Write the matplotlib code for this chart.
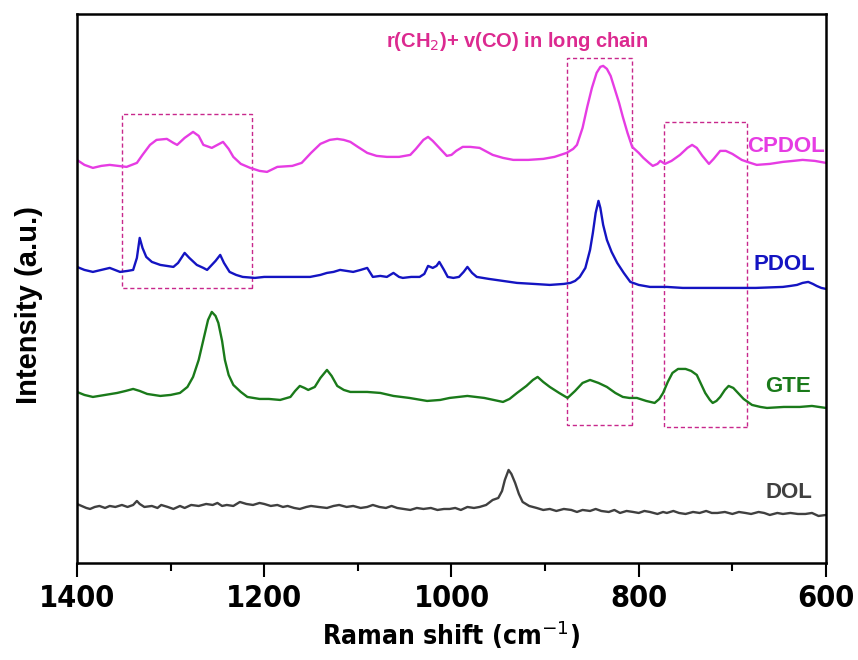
import matplotlib
matplotlib.use('Agg')
import matplotlib.pyplot as plt
from matplotlib.patches import Rectangle
from matplotlib.ticker import MultipleLocator

# stacked Raman spectra, intensity already offset for each sample
cpdol_x = [1400, 1392, 1383, 1374, 1365, 1356, 1347, 1336, 1330, 1322, 1315, 1304, 1297, 1293,
           1285, 1276, 1270, 1265, 1256, 1250, 1244, 1238, 1233, 1225, 1215, 1205, 1197, 1186,
           1170, 1160, 1150, 1140, 1130, 1122, 1115, 1108, 1100, 1090, 1080, 1069, 1056, 1044,
           1038, 1030, 1025, 1020, 1012, 1005, 1000, 995, 988, 980, 970, 962, 956, 945, 934,
           918, 902, 890, 877, 870, 866, 860, 855, 850, 845, 841, 838, 834, 830, 826, 821,
           817, 812, 807, 800, 795, 789, 785, 780, 777, 772, 765, 756, 748, 743, 738, 732,
           725, 720, 713, 707, 700, 690, 684, 674, 660, 646, 635, 625, 612, 600]
cpdol_y = [403, 398, 395, 397, 398, 397, 396, 400, 408, 418, 423, 424, 420, 418,
           425, 431, 427, 418, 415, 418, 421, 414, 406, 399, 395, 392, 391, 396,
           397, 400, 410, 419, 423, 424, 423, 421, 416, 410, 407, 406, 406, 408,
           414, 423, 426, 422, 414, 407, 408, 412, 416, 416, 415, 411, 408, 405, 403,
           403, 404, 406, 410, 414, 418, 435, 456, 475, 490, 496, 497, 494, 487, 475, 460,
           446, 430, 416, 410, 405, 400, 397, 399, 402, 399, 402, 408, 415, 418, 415, 407,
           399, 404, 412, 412, 409, 403, 401, 398, 399, 401, 402, 403, 402, 400]

pdol_x = [1400, 1392, 1383, 1374, 1365, 1354, 1346, 1340, 1336, 1333, 1330, 1326, 1320, 1311,
          1304, 1297, 1292, 1285, 1280, 1272, 1265, 1261, 1256, 1252, 1247, 1243, 1237, 1230,
          1223, 1210, 1200, 1186, 1170, 1151, 1140, 1133, 1126, 1119, 1112, 1105, 1097, 1090,
          1084, 1076, 1069, 1062, 1056, 1052, 1043, 1034, 1029, 1025, 1020, 1016, 1013, 1008,
          1004, 998, 992, 987, 983, 978, 973, 960, 945, 930, 912, 895, 880, 873, 868, 863, 857,
          852, 849, 846, 843, 841, 838, 834, 829, 823, 816, 809, 800, 788, 770, 753, 730, 699,
          675, 646, 638, 631, 625, 619, 614, 610, 605, 600]
pdol_y = [296, 293, 291, 293, 295, 291, 292, 293, 305, 325, 315, 306, 301, 298,
          297, 296, 300, 310, 305, 298, 295, 293, 298, 302, 308, 300, 291, 288,
          286, 285, 286, 286, 286, 286, 288, 290, 291, 293, 292, 291, 293, 295,
          286, 287, 286, 290, 286, 285, 286, 286, 289, 297, 295, 297, 301, 293,
          286, 285, 286, 291, 296, 290, 286, 284, 282, 280, 279, 278, 279, 280, 282, 286, 295,
          313, 330, 350, 362, 355, 338, 323, 311, 300, 290, 281, 278, 276, 276, 275, 275, 275,
          275, 276, 277, 278, 280, 281, 279, 277, 275, 274]

gte_x = [1400, 1392, 1383, 1370, 1357, 1348, 1340, 1333, 1325, 1311, 1300, 1290, 1282, 1276,
         1270, 1265, 1260, 1256, 1252, 1249, 1245, 1242, 1238, 1233, 1225, 1218, 1205, 1195,
         1183, 1172, 1167, 1162, 1157, 1153, 1146, 1140, 1133, 1128, 1122, 1115, 1108, 1090,
         1076, 1062, 1045, 1026, 1012, 1002, 983, 965, 945, 938, 930, 920, 913, 908, 902, 895,
         885, 876, 868, 860, 852, 843, 834, 825, 817, 810, 802, 792, 783, 778, 774, 769, 764,
         758, 750, 744, 738, 734, 729, 724, 721, 717, 713, 708, 704, 699, 694, 688, 679, 670,
         663, 645, 628, 615, 600]
gte_y = [171, 168, 166, 168, 170, 172, 174, 172, 169, 167, 168, 170, 176, 186,
         203, 223, 243, 251, 247, 240, 222, 203, 188, 178, 171, 166, 164, 164,
         163, 166, 172, 177, 175, 173, 176, 185, 193, 187, 177, 173, 171, 171,
         170, 167, 165, 162, 163, 165, 167, 165, 161, 164, 170, 177, 183, 186, 181, 176,
         170, 165, 172, 180, 183, 180, 176, 170, 166, 165, 165, 162, 160, 164, 170, 181, 190,
         194, 194, 192, 188, 180, 170, 163, 160, 162, 166, 173, 177, 175, 170, 164, 158, 156,
         155, 156, 156, 157, 155]

dol_x = [1400, 1395, 1390, 1386, 1381, 1376, 1370, 1365, 1359, 1352, 1346, 1340, 1336, 1333,
         1328, 1320, 1314, 1310, 1303, 1297, 1290, 1285, 1278, 1270, 1262, 1255, 1250, 1245,
         1240, 1233, 1226, 1219, 1212, 1205, 1200, 1193, 1186, 1180, 1175, 1168, 1162, 1155,
         1150, 1142, 1133, 1126, 1120, 1112, 1105, 1097, 1090, 1084, 1077, 1070, 1064, 1058,
         1051, 1044, 1037, 1030, 1022, 1015, 1008, 1002, 996, 990, 983, 976, 970, 963, 956,
         950, 946, 943, 939, 936, 932, 928, 924, 917, 909, 902, 895, 888, 880, 872, 866, 860,
         852, 846, 840, 832, 826, 820, 813, 806, 800, 794, 788, 780, 774, 770, 763, 757, 750,
         742, 735, 728, 722, 716, 708, 700, 693, 686, 680, 672, 666, 660, 652, 646, 638, 630,
         622, 615, 608, 600]
dol_y = [59, 57, 55, 54, 56, 57, 55, 57, 56, 58, 56, 58, 62, 59,
         56, 57, 55, 58, 56, 54, 57, 55, 58, 57, 59, 58, 60, 57,
         58, 57, 61, 59, 58, 60, 59, 57, 58, 56, 57, 55, 54, 56,
         57, 56, 55, 57, 58, 56, 57, 55, 56, 58, 56, 55, 57, 55,
         54, 53, 55, 54, 55, 53, 54, 54, 55, 53, 56, 55, 56, 58, 63,
         65, 72, 83, 93, 89, 80, 69, 61, 57, 55, 53, 54, 52, 54, 53, 51, 53,
         52, 54, 52, 51, 53, 50, 52, 51, 50, 52, 51, 49, 51, 50, 52, 50, 49,
         51, 50, 52, 50, 50, 51, 49, 51, 50, 49, 51, 50, 48, 50, 49, 50, 49,
         49, 50, 47, 48]

labels = ['CPDOL', 'PDOL', 'GTE', 'DOL']
colors = ['#E63CE3', '#1414C2', '#1A7A1A', '#404040']
label_x = [643, 644, 641, 640]
label_y = [416, 298, 176, 70]

# highlighted regions: (high wavenumber, low wavenumber, bottom, top)
boxes = [(1352, 1213, 275, 449),
         (877, 807, 138, 505),
         (773, 684, 136, 441)]

box_color = '#C8288C'
narrow = ['Liberation Sans Narrow', 'DejaVu Sans']
wide = ['Liberation Sans', 'DejaVu Sans']

fig = plt.figure(figsize=(8.58, 6.6), dpi=100)
ax = fig.add_axes([0.0897, 0.147, 0.873, 0.832])

series = [(cpdol_x, cpdol_y), (pdol_x, pdol_y), (gte_x, gte_y), (dol_x, dol_y)]
for (xs, ys), c in zip(series, colors):
    ax.plot(xs, ys, color=c, lw=1.7, solid_joinstyle='round')

for hi, lo, b, t in boxes:
    ax.add_patch(Rectangle((lo, b), hi - lo, t - b, fill=False, ec=box_color,
                           lw=1.0, ls=(0, (3, 2))))

for name, c, lx, ly in zip(labels, colors, label_x, label_y):
    ax.text(lx, ly, name, color=c, fontsize=16, fontweight='bold', family=wide,
            ha='center', va='center')

ax.text(930, 521, 'r(CH$_2$)+ v(CO) in long chain', color='#DC2A90', fontsize=14.5,
        fontweight='bold', family=wide, ha='center', va='center')

ax.set_xlim(1400, 600)
ax.set_ylim(0, 549)
ax.set_yticks([])
ax.xaxis.set_major_locator(MultipleLocator(200))
ax.xaxis.set_minor_locator(MultipleLocator(100))
ax.tick_params(axis='x', which='major', direction='out', length=10, width=1.5, pad=5)
ax.tick_params(axis='x', which='minor', direction='out', length=6, width=1.5)
for lab in ax.get_xticklabels():
    lab.set_fontfamily(narrow)
    lab.set_fontstretch('condensed')
    lab.set_fontweight('bold')
    lab.set_fontsize(22)
for sp in ax.spines.values():
    sp.set_linewidth(1.8)

ax.set_xlabel('Raman shift (cm$^{-1}$)', fontsize=19, fontweight='bold', family=narrow,
              fontstretch='condensed', labelpad=4)
ax.set_ylabel('Intensity (a.u.)', fontsize=21, fontweight='bold', family=wide)
ax.yaxis.set_label_coords(-0.045, 0.47)

fig.savefig('out.png', dpi=100)
